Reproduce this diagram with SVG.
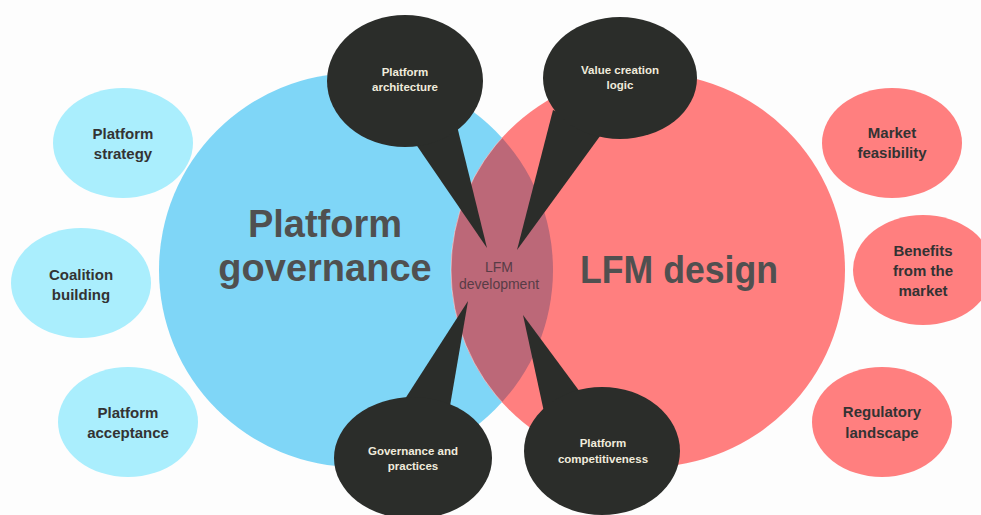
<svg xmlns="http://www.w3.org/2000/svg" width="981" height="515" viewBox="0 0 981 515">
  <defs>
    <style>
      .blueBig { fill: #7FD6F7; }
      .redBig { fill: #FF7F7F; }
      .lens { fill: #BC6878; }
      .sideBlue { fill: #AAEEFD; }
      .sideRed { fill: #FF7F7F; }
      .bubble { fill: #2B2D2A; }
      .title { font-family: "Liberation Sans", Arial, sans-serif; font-weight: bold; font-size: 38px; fill: #505050; text-anchor: middle; }
      .side { font-family: "Liberation Sans", Arial, sans-serif; font-weight: bold; font-size: 15px; fill: #333333; text-anchor: middle; }
      .btxt { font-family: "Liberation Sans", Arial, sans-serif; font-weight: bold; font-size: 11.5px; fill: #F0EBDC; text-anchor: middle; }
      .ltxt { font-family: "Liberation Sans", Arial, sans-serif; font-size: 14px; fill: #583C46; text-anchor: middle; }
    </style>
    <clipPath id="blueClip">
      <circle cx="356" cy="270" r="197"/>
    </clipPath>
    <clipPath id="redClip">
      <circle cx="648" cy="270" r="197"/>
    </clipPath>
  </defs>
  <rect width="981" height="515" fill="#FDFDFD"/>

  <g id="platform-governance">
    <circle class="blueBig" cx="356" cy="270" r="197"/>
  </g>
  <g id="lfm-design">
    <circle class="redBig" cx="648" cy="270" r="197"/>
  </g>
  <g id="lfm-development">
    <circle class="lens" cx="648" cy="270" r="197" clip-path="url(#blueClip)"/>
    <circle cx="648" cy="270" r="197" fill="none" stroke="#FFFFFF" stroke-opacity="0.45" stroke-width="1" clip-path="url(#blueClip)"/>
  </g>
  <g id="titles">
    <text class="title" x="325" y="237">Platform</text>
    <text class="title" x="325" y="281">governance</text>
    <text class="title" x="679" y="283" textLength="198" lengthAdjust="spacingAndGlyphs">LFM design</text>
    <text class="ltxt" x="499" y="272">LFM</text>
    <text class="ltxt" x="499" y="289">development</text>
  </g>

  <g id="platform-strategy">
    <ellipse class="sideBlue" cx="123" cy="143" rx="70" ry="55"/>
    <text class="side" x="123" y="139">Platform</text>
    <text class="side" x="123" y="159">strategy</text>
  </g>
  <g id="coalition-building">
    <ellipse class="sideBlue" cx="81" cy="283" rx="70" ry="55"/>
    <text class="side" x="81" y="280">Coalition</text>
    <text class="side" x="81" y="300">building</text>
  </g>
  <g id="platform-acceptance">
    <ellipse class="sideBlue" cx="128" cy="422" rx="70" ry="55"/>
    <text class="side" x="128" y="418">Platform</text>
    <text class="side" x="128" y="438">acceptance</text>
  </g>

  <g id="market-feasibility">
    <ellipse class="sideRed" cx="892" cy="143" rx="70" ry="55"/>
    <text class="side" x="892" y="138">Market</text>
    <text class="side" x="892" y="158">feasibility</text>
  </g>
  <g id="benefits-from-the-market">
    <ellipse class="sideRed" cx="923" cy="270" rx="70" ry="55"/>
    <text class="side" x="923" y="256">Benefits</text>
    <text class="side" x="923" y="276">from the</text>
    <text class="side" x="923" y="296">market</text>
  </g>
  <g id="regulatory-landscape">
    <ellipse class="sideRed" cx="882" cy="422" rx="70" ry="55"/>
    <text class="side" x="882" y="417">Regulatory</text>
    <text class="side" x="882" y="438">landscape</text>
  </g>

  <g id="connectors">
    <polygon class="bubble" points="413,140 457,126 487,248"/>
    <polygon class="bubble" points="553,110 603,132 517,250"/>
    <polygon class="bubble" points="403,402 450,406 468,301"/>
    <polygon class="bubble" points="544,412 580,392 523,315"/>
  </g>

  <g id="platform-architecture">
    <ellipse class="bubble" cx="405" cy="81" rx="78" ry="66"/>
    <text class="btxt" x="405" y="76">Platform</text>
    <text class="btxt" x="405" y="91">architecture</text>
  </g>
  <g id="value-creation-logic">
    <ellipse class="bubble" cx="620" cy="78" rx="77" ry="61"/>
    <text class="btxt" x="620" y="74">Value creation</text>
    <text class="btxt" x="620" y="89">logic</text>
  </g>
  <g id="governance-and-practices">
    <ellipse class="bubble" cx="413" cy="458" rx="79" ry="61"/>
    <text class="btxt" x="413" y="455">Governance and</text>
    <text class="btxt" x="413" y="470">practices</text>
  </g>
  <g id="platform-competitiveness">
    <ellipse class="bubble" cx="602" cy="451" rx="78" ry="64"/>
    <text class="btxt" x="603" y="447">Platform</text>
    <text class="btxt" x="603" y="463">competitiveness</text>
  </g>
</svg>
